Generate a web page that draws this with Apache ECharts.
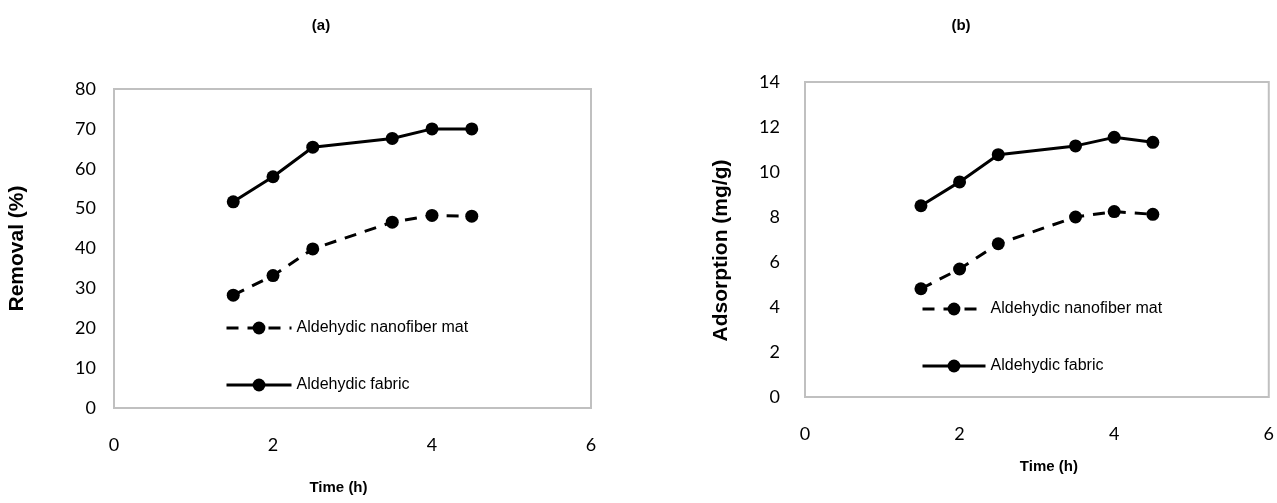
<!DOCTYPE html>
<html>
<head>
<meta charset="utf-8">
<script src="https://cdn.jsdelivr.net/npm/echarts@6/dist/echarts.min.js"></script>
<style>html,body{margin:0;padding:0;background:#fff}#c{width:1277px;height:503px}</style>
</head>
<body>
<div id="c"></div>
<script>
const timeH = [1.5, 2, 2.5, 3.5, 4, 4.5];
const removalNanofiber = [28.3, 33.2, 39.9, 46.6, 48.3, 48.1];
const removalFabric = [51.7, 58.0, 65.4, 67.6, 70.0, 70.0];
const adsorptionNanofiber = [4.81, 5.69, 6.81, 8.0, 8.24, 8.12];
const adsorptionFabric = [8.50, 9.56, 10.77, 11.16, 11.54, 11.32];
const nameNano = 'Aldehydic nanofiber mat';
const nameFabric = 'Aldehydic fabric';

const pair = (xs, ys) => xs.map((x, i) => [x, ys[i]]);
const tickFont = {color: '#000', fontFamily: 'Lato', fontSize: 18};

function mkSeries(name, xi, data, dashed) {
  return {
    name: name, type: 'line', xAxisIndex: xi, yAxisIndex: xi, data: data,
    symbol: 'circle', symbolSize: 13, color: '#000',
    itemStyle: {color: '#000'},
    lineStyle: {color: '#000', width: 3, type: dashed ? [12, 9] : 'solid'},
    animation: false
  };
}
function xAx(gi, gap, margin, pad) {
  return {
    type: 'value', gridIndex: gi, min: 0, max: 6, interval: 2,
    axisLine: {show: false}, axisTick: {show: false}, splitLine: {show: false},
    axisLabel: Object.assign({margin: margin}, tickFont),
    name: 'Time (h)', nameLocation: 'middle', nameGap: gap,
    nameTextStyle: {color: '#000', fontFamily: 'Liberation Sans', fontWeight: 'bold', fontSize: 15, padding: pad}
  };
}
function yAx(gi, max, interval, name, gap, margin, shiftDown) {
  return {
    type: 'value', gridIndex: gi, min: 0, max: max, interval: interval,
    axisLine: {show: false}, axisTick: {show: false}, splitLine: {show: false},
    axisLabel: Object.assign({margin: margin}, tickFont),
    name: name, nameLocation: 'middle', nameGap: gap,
    nameTextStyle: {color: '#000', fontFamily: 'Liberation Sans', fontWeight: 'bold', fontSize: 21,
      padding: [0, shiftDown, 0, 0]}
  };
}
const legendBase = {
  orient: 'vertical', itemHeight: 16, itemGap: 41,
  lineStyle: {width: 3},
  textStyle: {color: '#000', fontFamily: 'Liberation Sans', fontSize: 16},
  data: [nameNano, nameFabric], selectedMode: false
};

const chart = echarts.init(document.getElementById('c'), null, {renderer: 'canvas'});
chart.setOption({
  backgroundColor: '#fff',
  animation: false,
  title: [
    {text: '(a)', left: 316, top: 13, textAlign: 'center', textStyle: {color: '#000', fontFamily: 'Liberation Sans', fontWeight: 'bold', fontSize: 15}},
    {text: '(b)', left: 956, top: 13, textAlign: 'center', textStyle: {color: '#000', fontFamily: 'Liberation Sans', fontWeight: 'bold', fontSize: 15}}
  ],
  grid: [
    {left: 114, top: 89, width: 477, height: 319, show: true, borderColor: '#c0c0c0', borderWidth: 2, backgroundColor: 'transparent'},
    {left: 805, top: 82, width: 468, height: 315, show: true, borderColor: '#c0c0c0', borderWidth: 2, backgroundColor: 'transparent'}
  ],
  xAxis: [xAx(0, 72, 28, [0, 28, 0, 0]), xAx(1, 62, 28, [0, 0, 0, 24])],
  yAxis: [yAx(0, 80, 10, 'Removal (%)', 86, 18, 0), yAx(1, 14, 2, 'Adsorption (mg/g)', 73, 25, 22)],
  legend: [
    Object.assign({left: 220, top: 315, itemWidth: 65}, legendBase),
    Object.assign({left: 916, top: 296, itemWidth: 63}, legendBase)
  ],
  series: [
    mkSeries(nameNano, 0, pair(timeH, removalNanofiber), true),
    mkSeries(nameFabric, 0, pair(timeH, removalFabric), false),
    mkSeries(nameNano, 1, pair(timeH, adsorptionNanofiber), true),
    mkSeries(nameFabric, 1, pair(timeH, adsorptionFabric), false)
  ]
});
</script>
</body>
</html>
